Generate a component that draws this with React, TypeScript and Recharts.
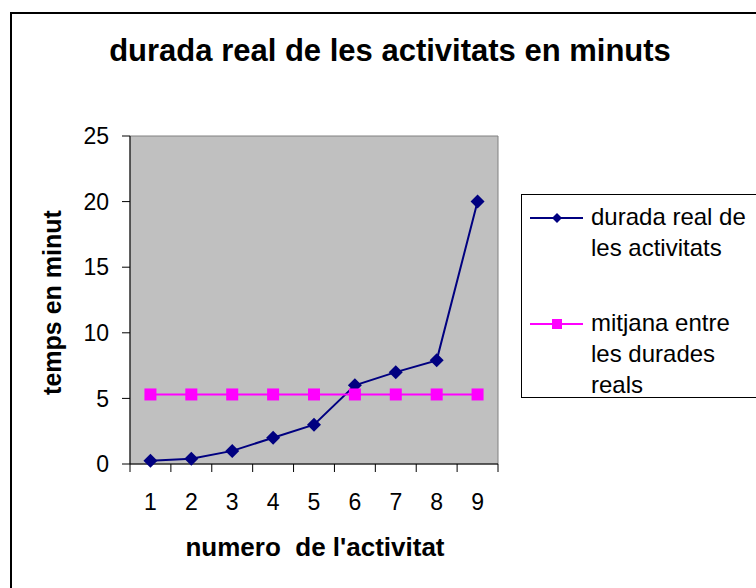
import { LineChart, Line, XAxis, YAxis, ReferenceArea, Legend } from 'recharts';

const categories = [1, 2, 3, 4, 5, 6, 7, 8, 9];
const duradaReal = [0.25, 0.4, 1, 2, 3, 6, 7, 7.9, 20];
const mitjana = [5.3, 5.3, 5.3, 5.3, 5.3, 5.3, 5.3, 5.3, 5.3];
const yTicks = [0, 5, 10, 15, 20, 25];
const xBounds = [0.5, 1.5, 2.5, 3.5, 4.5, 5.5, 6.5, 7.5, 8.5, 9.5];

const seriesNames = {
  durada: 'durada real de les activitats',
  mitjana: 'mitjana entre les durades reals',
};

const data = categories.map((n, i) => ({ n, durada: duradaReal[i], mitjana: mitjana[i] }));

const FONT = '"Liberation Sans", Arial, sans-serif';
const NAVY = '#000080';
const MAGENTA = '#FF00FF';

const Diamond = ({ cx, cy, half, color }: any) => {
  if (cx == null || cy == null) return null;
  return (
    <polygon
      points={`${cx},${cy - half} ${cx + half},${cy} ${cx},${cy + half} ${cx - half},${cy}`}
      fill={color}
    />
  );
};

const Square = ({ cx, cy, side, color }: any) => {
  if (cx == null || cy == null) return null;
  return <rect x={cx - side / 2} y={cy - side / 2} width={side} height={side} fill={color} />;
};

function LegendBox({ payload }: any) {
  return (
    <div
      style={{
        width: 300,
        height: 204,
        border: '1px solid #000',
        boxSizing: 'border-box',
        background: '#fff',
        paddingTop: 6,
        fontFamily: FONT,
        fontSize: 24,
        lineHeight: '31px',
        color: '#000',
      }}
    >
      {(payload || []).map((entry: any, i: number) => (
        <div key={entry.dataKey} style={{ display: 'flex', marginTop: i ? 44 : 0 }}>
          <svg width={69} height={31} style={{ flex: 'none' }}>
            <line x1={8} x2={61} y1={17} y2={17} stroke={entry.color} strokeWidth={2} />
            {entry.dataKey === 'durada' ? (
              <Diamond cx={35} cy={17} half={5} color={entry.color} />
            ) : (
              <Square cx={35} cy={17} side={10} color={entry.color} />
            )}
          </svg>
          <div style={{ width: 168 }}>{entry.value}</div>
        </div>
      ))}
    </div>
  );
}

export default function App() {
  return (
    <div
      style={{
        position: 'fixed',
        left: 0,
        top: 0,
        width: 756,
        height: 588,
        overflow: 'hidden',
        background: '#fff',
        fontFamily: FONT,
      }}
    >
      <div
        style={{
          position: 'absolute',
          left: 10,
          top: 12,
          width: 900,
          height: 800,
          border: '2px solid #000',
          boxSizing: 'border-box',
        }}
      />

      <LineChart
        width={756}
        height={588}
        data={data}
        margin={{ top: 136, right: 258, left: 70, bottom: 76 }}
        style={{ position: 'absolute', left: 0, top: 0 }}
      >
        <ReferenceArea
          xAxisId="b"
          yAxisId="y"
          x1={0.5}
          x2={9.5}
          y1={0}
          y2={25}
          fill="#c0c0c0"
          fillOpacity={1}
          stroke="#808080"
          strokeWidth={1}
        />
        <YAxis
          yAxisId="y"
          type="number"
          domain={[0, 25]}
          ticks={yTicks}
          width={60}
          tickSize={8}
          tickMargin={13}
          axisLine={{ stroke: '#000' }}
          tickLine={{ stroke: '#000' }}
          tick={{ fill: '#000', fontSize: 23, fontFamily: FONT }}
        />
        <XAxis
          xAxisId="b"
          type="number"
          dataKey="n"
          domain={[0.5, 9.5]}
          ticks={xBounds}
          height={8}
          tickSize={8}
          tickFormatter={() => ''}
          axisLine={{ stroke: '#000' }}
          tickLine={{ stroke: '#000' }}
        />
        <XAxis
          xAxisId="l"
          type="number"
          dataKey="n"
          domain={[0.5, 9.5]}
          ticks={categories}
          height={40}
          tickSize={0}
          tickMargin={22}
          axisLine={false}
          tickLine={false}
          tick={{ fill: '#000', fontSize: 23, fontFamily: FONT }}
        />
        <Line
          xAxisId="b"
          yAxisId="y"
          type="linear"
          dataKey="durada"
          name={seriesNames.durada}
          stroke={NAVY}
          strokeWidth={2}
          dot={(p: any) => <Diamond key={`d${p.index}`} cx={p.cx} cy={p.cy} half={7} color={NAVY} />}
          activeDot={false}
          isAnimationActive={false}
        />
        <Line
          xAxisId="b"
          yAxisId="y"
          type="linear"
          dataKey="mitjana"
          name={seriesNames.mitjana}
          stroke={MAGENTA}
          strokeWidth={2}
          dot={(p: any) => <Square key={`m${p.index}`} cx={p.cx} cy={p.cy} side={12} color={MAGENTA} />}
          activeDot={false}
          isAnimationActive={false}
        />
        <Legend
          layout="vertical"
          align="center"
          verticalAlign="middle"
          content={<LegendBox />}
          wrapperStyle={{ left: 521, top: 194, width: 300, height: 204 }}
        />
      </LineChart>

      <div
        style={{
          position: 'absolute',
          left: 0,
          top: 35,
          width: 780,
          textAlign: 'center',
          fontSize: 31,
          fontWeight: 'bold',
          lineHeight: '31px',
          whiteSpace: 'nowrap',
        }}
      >
        durada real de les activitats en minuts
      </div>

      <div
        style={{
          position: 'absolute',
          left: 52 - 150,
          top: 302 - 12,
          width: 300,
          height: 25,
          textAlign: 'center',
          fontSize: 25,
          fontWeight: 'bold',
          lineHeight: '25px',
          whiteSpace: 'nowrap',
          transform: 'rotate(-90deg)',
        }}
      >
        temps en minut
      </div>

      <div
        style={{
          position: 'absolute',
          left: 315 - 200,
          top: 534,
          width: 400,
          textAlign: 'center',
          fontSize: 26,
          fontWeight: 'bold',
          lineHeight: '26px',
          whiteSpace: 'pre',
        }}
      >
        {'numero  de l\'activitat'}
      </div>
    </div>
  );
}
